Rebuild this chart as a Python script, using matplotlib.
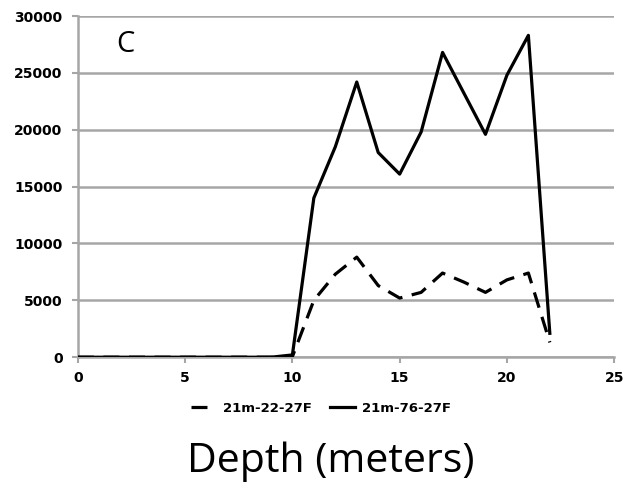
import matplotlib
matplotlib.use("Agg")
import matplotlib.pyplot as plt

depth = list(range(0, 23))
series_22 = [0, 0, 0, 0, 0, 0, 0, 0, 0, 0, 50, 5000, 7300, 8800, 6300, 5200, 5700, 7400, 6600, 5700, 6800, 7400, 1300]
series_76 = [0, 0, 0, 0, 0, 0, 0, 0, 0, 0, 200, 14000, 18500, 24200, 18000, 16100, 19800, 26800, 23200, 19600, 24800, 28300, 2100]
x_ticks = [0, 5, 10, 15, 20, 25]
y_ticks = [0, 5000, 10000, 15000, 20000, 25000, 30000]

plt.rcParams["font.family"] = ["DejaVu Sans"]
plt.rcParams["font.weight"] = "bold"

fig = plt.figure(figsize=(6.28, 4.86), dpi=100)
ax = fig.add_axes([0.124, 0.265, 0.854, 0.702])

grid_c = "#a6a6a6"
l1, = ax.plot(depth, series_22, color="black", lw=2.3, linestyle=(0, (5, 3)), label="21m-22-27F", zorder=3)
l2, = ax.plot(depth, series_76, color="black", lw=2.3, label="21m-76-27F", zorder=3)

ax.set_xlim(0, 25)
ax.set_ylim(0, 30000)
ax.set_xticks(x_ticks)
ax.set_yticks(y_ticks)
ax.yaxis.grid(True, color=grid_c, lw=1.8)
ax.set_axisbelow(True)
for s in ["right", "top"]:
    ax.spines[s].set_visible(False)
for s in ["bottom", "left"]:
    ax.spines[s].set_color(grid_c)
    ax.spines[s].set_linewidth(1.8)
ax.tick_params(axis="x", direction="out", length=4, width=1.5, color=grid_c, pad=6, labelsize=10)
ax.tick_params(axis="y", direction="out", length=4, width=1.5, color=grid_c, pad=7, labelsize=10)

fig.text(125 / 628, 1 - 45 / 486, "C", fontsize=21, family="Open Sans",
         weight="normal", ha="center", va="center")

leg = fig.legend(handles=[l1, l2], loc="center", bbox_to_anchor=(321 / 628, 1 - 408 / 486),
                 ncol=2, frameon=False, handlelength=1.9, handletextpad=0.5, columnspacing=1.4,
                 prop={"family": "DejaVu Sans", "weight": "bold", "size": 9.5})

fig.text(331 / 628, 1 - 472 / 486, "Depth (meters)", ha="center", va="baseline",
         fontsize=29.5, family="Open Sans", weight="normal")

fig.savefig("out.png", dpi=100)
